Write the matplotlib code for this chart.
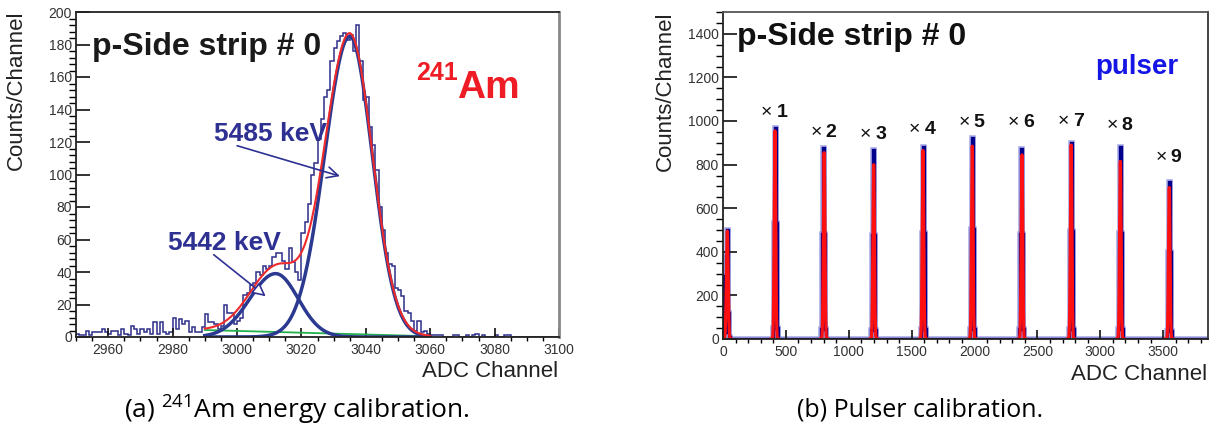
import matplotlib
matplotlib.use('Agg')
import matplotlib.pyplot as plt
import numpy as np
from matplotlib.ticker import MultipleLocator

plt.rcParams['font.family'] = ['Liberation Sans', 'DejaVu Sans']
plt.rcParams['mathtext.fontset'] = 'custom'
plt.rcParams['mathtext.rm'] = 'Open Sans'

# ---------- (a) 241Am spectrum, 1-channel bins starting at 2950
am_first_ch = 2950
am_counts = [
    2, 1, 1, 4, 1, 3, 3, 3, 5, 3,
    2, 4, 4, 1, 5, 2, 1, 7, 5, 2,
    5, 3, 5, 2, 9, 2, 9, 3, 2, 3,
    12, 5, 11, 8, 10, 3, 6, 3, 3, 6,
    14, 9, 9, 8, 5, 7, 20, 15, 15, 8,
    10, 12, 26, 27, 32, 33, 40, 38, 44, 42,
    44, 49, 52, 52, 47, 42, 55, 46, 40, 35,
    64, 71, 82, 100, 107, 122, 134, 148, 152, 170,
    178, 182, 185, 187, 183, 186, 176, 192, 170, 146,
    148, 129, 118, 103, 80, 66, 52, 45, 44, 30,
    29, 25, 16, 15, 10, 4, 10, 3, 4, 2,
    1, 1, 1, 1, 0, 0, 0, 1, 1, 0,
    0, 1, 0, 1, 2, 0, 1, 0, 0, 0,
    1, 0, 0, 1, 1, 0, 0, 0, 0, 0,
    0, 0, 0, 0, 0, 0, 0, 0, 0, 0,
]
# fit components: amplitude, centre, sigma left, sigma right
peak_5485 = (185, 3035, 7.8, 7.0)
peak_5442 = (39, 3012, 8.0, 7.0)
bkg_at_start, bkg_slope = 4.3, -0.055
fit_range = (2990, 3060)

# ---------- (b) pulser spectrum, 8-channel bins
bin_w = 8
x_max = 3856
pulser_ch = [413, 804, 1198, 1590, 1982, 2377, 2768, 3159, 3548]
pulser_top = [968, 878, 866, 883, 921, 872, 898, 883, 722]
pulser_fit_top = [955, 855, 800, 865, 885, 845, 890, 815, 695]
pulser_sigma = 6
peak_profile = [0.05, 0.55, 1.0, 0.55, 0.05]
low_bins = [290, 60, 30, 380, 500, 120, 10]
low_fit = (495, 34, 7)
label_num = ['1', '2', '3', '4', '5', '6', '7', '8', '9']
label_base = [1020, 928, 916, 941, 974, 971, 978, 959, 814]


def split_gauss(x, p):
    a, c, sl, sr = p
    s = np.where(x < c, sl, sr)
    return a * np.exp(-0.5 * ((x - c) / s) ** 2)


def root_style(ax, xmaj, xmin, ymaj, ymin):
    ax.xaxis.set_major_locator(MultipleLocator(xmaj))
    ax.xaxis.set_minor_locator(MultipleLocator(xmin))
    ax.yaxis.set_major_locator(MultipleLocator(ymaj))
    ax.yaxis.set_minor_locator(MultipleLocator(ymin))
    ax.tick_params(direction='in', top=False, right=False, labelsize=10,
                   labelcolor='#333333', color='#111111', width=1.2)
    ax.tick_params(axis='y', which='major', length=10, pad=3)
    ax.tick_params(axis='y', which='minor', length=5, width=1)
    ax.tick_params(axis='x', which='major', length=6.5, pad=4)
    ax.tick_params(axis='x', which='minor', length=3.2, width=1)
    for s in ax.spines.values():
        s.set_linewidth(1.3)
        s.set_color('#222222')


W, H = 1214, 433
fig = plt.figure(figsize=(W / 100, H / 100), dpi=100)

# ======================= left panel
ax1 = fig.add_axes([76 / W, 1 - 337 / H, (559 - 76) / W, (337 - 12) / H])
edges = am_first_ch + np.arange(len(am_counts) + 1)
ax1.stairs(am_counts, edges, color='#2e2e8a', lw=1.1)

xf = np.linspace(fit_range[0], fit_range[1], 500)
g_big = split_gauss(xf, peak_5485)
g_small = split_gauss(xf, peak_5442)
bkg = bkg_at_start + bkg_slope * (xf - fit_range[0])
ax1.plot(xf, bkg, color='#22b14c', lw=1.3)
ax1.plot(xf, g_small, color='#2b3990', lw=2.5)
ax1.plot(xf, g_big, color='#2b3990', lw=2.5)
ax1.plot(xf, g_big + g_small + bkg, color='#ee2a2a', lw=1.5)

ax1.set_xlim(2950, 3100)
ax1.set_ylim(0, 200)
root_style(ax1, 20, 5, 20, 4)
ax1.spines['right'].set_color('#888888')
ax1.spines['right'].set_linewidth(2)

ax1.text(2955, 173.5, 'p-Side strip # 0', fontsize=23, fontweight='bold',
         color='#1a1a1a', va='baseline')
ax1.text(3055.6, 158, '241', fontsize=18, fontweight='bold', color='#ee1c24',
         va='baseline')
ax1.text(3068.2, 147, 'Am', fontsize=28, fontweight='bold', color='#ee1c24',
         va='baseline')
ax1.text(2992.9, 120.8, '5485 keV', fontsize=19, fontweight='bold',
         color='#2e3192', va='baseline')
ax1.text(2978.6, 53.5, '5442 keV', fontsize=19, fontweight='bold',
         color='#2e3192', va='baseline')
ax1.annotate('', xy=(3032.8, 98.5), xytext=(2999.2, 118.2),
             arrowprops=dict(arrowstyle='->,head_length=0.8,head_width=0.4',
                             color='#2e3192', lw=1.2))
ax1.annotate('', xy=(3009.6, 24), xytext=(2992.1, 51.7),
             arrowprops=dict(arrowstyle='-|>,head_length=0.8,head_width=0.4',
                             color='#2e3192', fc='white', lw=1.2))

fig.text(16.7 / W, 1 - 10 / H, 'Counts/Channel', rotation=90, fontsize=16,
         ha='center', va='top', color='#222222')
fig.text(558 / W, 1 - 377 / H, 'ADC Channel', fontsize=16, ha='right',
         va='baseline', color='#222222')

# ======================= right panel
ax2 = fig.add_axes([723 / W, 1 - 339 / H, (1208 - 723) / W, (339 - 12) / H])
nb = x_max // bin_w
counts = np.zeros(nb)
counts[:len(low_bins)] = low_bins
half = len(peak_profile) // 2
for ch, top in zip(pulser_ch, pulser_top):
    b = int(round(ch / bin_w))
    for k, r in enumerate(peak_profile):
        counts[b - half + k] = r * top
edges2 = np.arange(nb + 1) * bin_w - bin_w / 2
ax2.stairs(counts, edges2, color='#a8a8e6', lw=4)
ax2.stairs(counts, edges2, color='#00008c', lw=2.4)

for ch, top in zip(pulser_ch, pulser_fit_top):
    xs = np.linspace(ch - 30, ch + 30, 200)
    ax2.plot(xs, top * np.exp(-0.5 * ((xs - ch) / pulser_sigma) ** 2),
             color='#ff1010', lw=2.3)
xs = np.linspace(low_fit[1] - 30, low_fit[1] + 30, 200)
ax2.plot(xs, low_fit[0] * np.exp(-0.5 * ((xs - low_fit[1]) / low_fit[2]) ** 2),
         color='#ff1010', lw=2.3)

ax2.set_xlim(0, x_max)
ax2.set_ylim(0, 1500)
root_style(ax2, 500, 100, 200, 50)
ax2.spines['top'].set_color('#555555')
ax2.spines['right'].set_color('#333333')

for ch, yb, n in zip(pulser_ch, label_base, label_num):
    ax2.annotate('×', (ch, yb), xytext=(-1.8, 0), textcoords='offset points',
                 ha='right', va='baseline', fontsize=14, color='#111111')
    ax2.annotate(n, (ch, yb), xytext=(1.1, 0), textcoords='offset points',
                 ha='left', va='baseline', fontsize=14, fontweight='bold',
                 color='#111111')

ax2.text(111, 1349, 'p-Side strip # 0', fontsize=23, fontweight='bold',
         color='#111111', va='baseline')
ax2.text(2958, 1216, 'pulser', fontsize=20, fontweight='bold',
         color='#1515e6', va='baseline')

fig.text(665.3 / W, 1 - 11.7 / H, 'Counts/Channel', rotation=90, fontsize=16,
         ha='center', va='top', color='#222222')
fig.text(1206.7 / W, 1 - 380 / H, 'ADC Channel', fontsize=16, ha='right',
         va='baseline', color='#222222')

# ======================= captions
fig.text(297 / W, 1 - 410 / H, r'(a) $\mathregular{^{241}}$Am energy calibration.',
         family='Open Sans', fontsize=19, ha='center', va='center')
fig.text(920 / W, 1 - 410 / H, '(b) Pulser calibration.',
         family='Open Sans', fontsize=18, ha='center', va='center')

fig.savefig('out.png', dpi=100)
